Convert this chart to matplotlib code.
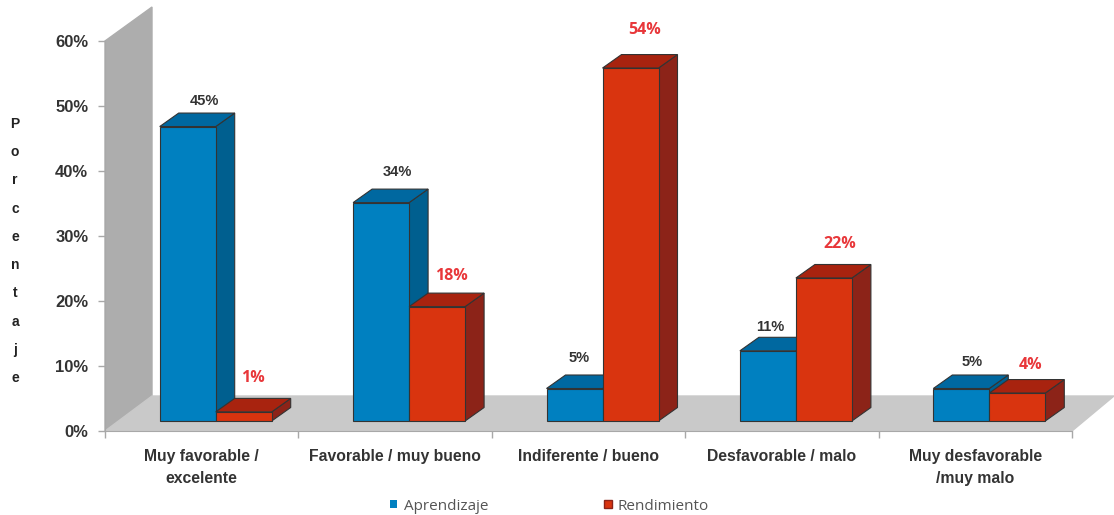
#!/usr/bin/env python
"""Fake-3D clustered bars: Aprendizaje vs Rendimiento by rating category."""
import numpy as np
import matplotlib
matplotlib.use("Agg")
import matplotlib.pyplot as plt
from matplotlib.patches import Patch

plt.rcParams["font.family"] = ["Liberation Sans", "DejaVu Sans"]

categories = ["Muy favorable /\nexcelente", "Favorable / muy bueno", "Indiferente / bueno",
              "Desfavorable / malo", "Muy desfavorable\n/muy malo"]
# heights as drawn in the picture; printed labels are these rounded
aprendizaje = [45.3, 33.6, 5.0, 10.8, 5.0]
rendimiento = [1.4, 17.6, 54.3, 22.0, 4.3]
y_ticks = [0, 10, 20, 30, 40, 50, 60]

W, H = 1114, 515
L, R, B, T = 105, 1072, 431, 41          # plot box in pixels
PX_X = (R - L) / 5                       # pixels per category
PX_Y = (B - T) / 60                      # pixels per percent


def dx(px):
    return px / PX_X


def dy(px):
    return px / PX_Y


fig = plt.figure(figsize=(W / 100, H / 100), dpi=100)
ax = fig.add_axes([L / W, 1 - B / H, (R - L) / W, (B - T) / H])
ax.set_xlim(-0.5, 4.5)
ax.set_ylim(0, 60)
for s in ax.spines.values():
    s.set_visible(False)
ax.spines["bottom"].set_visible(True)
ax.spines["left"].set_visible(True)
ax.spines["bottom"].set_color("#a8a8a8")
ax.spines["left"].set_color("#a8a8a8")

# back wall and floor
ax.fill([-0.5, -0.5, -0.5 + dx(47), -0.5 + dx(47)], [0, 60, 60 + dy(34), dy(35)],
        color="#adadad", clip_on=False, zorder=1)
ax.fill([-0.5, -0.5 + dx(47), 4.5 + dx(42), 4.5], [0, dy(35), dy(35), 0],
        color="#c9c9c9", clip_on=False, zorder=1)

BASE = dy(10)
BAR_W = dx(56)
SHIFT = dx(14)
DEPTH_X, DEPTH_Y = dx(19), dy(13.5)
EDGE = "#333333"


def bar3d(x0, val, front, side, top, z):
    y0, y1 = BASE, BASE + val
    x1 = x0 + BAR_W
    ax.fill([x1, x1 + DEPTH_X, x1 + DEPTH_X, x1], [y0, y0 + DEPTH_Y, y1 + DEPTH_Y, y1],
            facecolor=side, edgecolor=EDGE, lw=0.8, clip_on=False, zorder=z)
    ax.fill([x0, x0 + DEPTH_X, x1 + DEPTH_X, x1], [y1, y1 + DEPTH_Y, y1 + DEPTH_Y, y1],
            facecolor=top, edgecolor=EDGE, lw=0.8, clip_on=False, zorder=z)
    ax.bar(x0, val, bottom=BASE, width=BAR_W, align="edge", facecolor=front,
           edgecolor=EDGE, lw=0.8, clip_on=False, zorder=z + 0.5)


BLUE = ("#0080c0", "#005f8f", "#0068a0")
RED = ("#d9340f", "#8c2318", "#a8230f")

# label offsets from the bar's front top centre, in pixels (hand placed)
off_a = [(17, 26), (16, 31), (5, 31), (2, 24), (11, 27)]
off_r = [(9, 34), (14, 31), (14, 38), (16, 34), (13, 28)]

for i in range(len(categories)):
    xa = i + SHIFT - BAR_W
    xr = i + SHIFT
    bar3d(xa, aprendizaje[i], *BLUE, 3 + i)
    bar3d(xr, rendimiento[i], *RED, 3 + i + 0.6)
    ax.annotate(f"{aprendizaje[i]:.0f}%", (xa + BAR_W / 2, BASE + aprendizaje[i]), xytext=off_a[i],
                textcoords="offset pixels", ha="center", va="center", fontsize=10.5,
                fontweight="bold", color="#333333", zorder=20, annotation_clip=False)
    ax.annotate(f"{rendimiento[i]:.0f}%", (xr + BAR_W / 2, BASE + rendimiento[i]), xytext=off_r[i],
                textcoords="offset pixels", ha="center", va="center", fontsize=11.5,
                fontweight="bold", family="Open Sans", color="#e8373a", zorder=20,
                annotation_clip=False)

ax.set_yticks(y_ticks)
ax.set_yticklabels([f"{v}%" for v in y_ticks], fontsize=12, fontweight="bold", color="#333333")
ax.tick_params(axis="y", length=5, width=1, color="#a8a8a8", pad=7)
ax.set_xticks(range(len(categories)))
ax.set_xticklabels(categories, fontsize=11.3, fontweight="bold", color="#333333", linespacing=1.55)
ax.tick_params(axis="x", length=0, pad=13)
ax.set_xticks(np.arange(-0.5, 5), minor=True)
ax.tick_params(axis="x", which="minor", length=5, width=1, color="#a8a8a8")

fig.text(15 / W, 1 - 251 / H, "\n".join("Porcentaje"), ha="center", va="center", fontsize=10,
         fontweight="bold", color="#222222", linespacing=2.3)

handles = [Patch(facecolor="#0080c0", label="Aprendizaje"),
           Patch(facecolor="#d9340f", edgecolor="#8c2318", label="Rendimiento")]
fig.legend(handles=handles, ncol=2, loc="center", bbox_to_anchor=(549.5 / W, 1 - 506 / H), frameon=False,
           prop={"family": "Open Sans", "size": 11}, labelcolor="#555555", handlelength=0.5,
           handleheight=0.5, handletextpad=0.4, columnspacing=7.6)

fig.savefig("out.png", dpi=100)
